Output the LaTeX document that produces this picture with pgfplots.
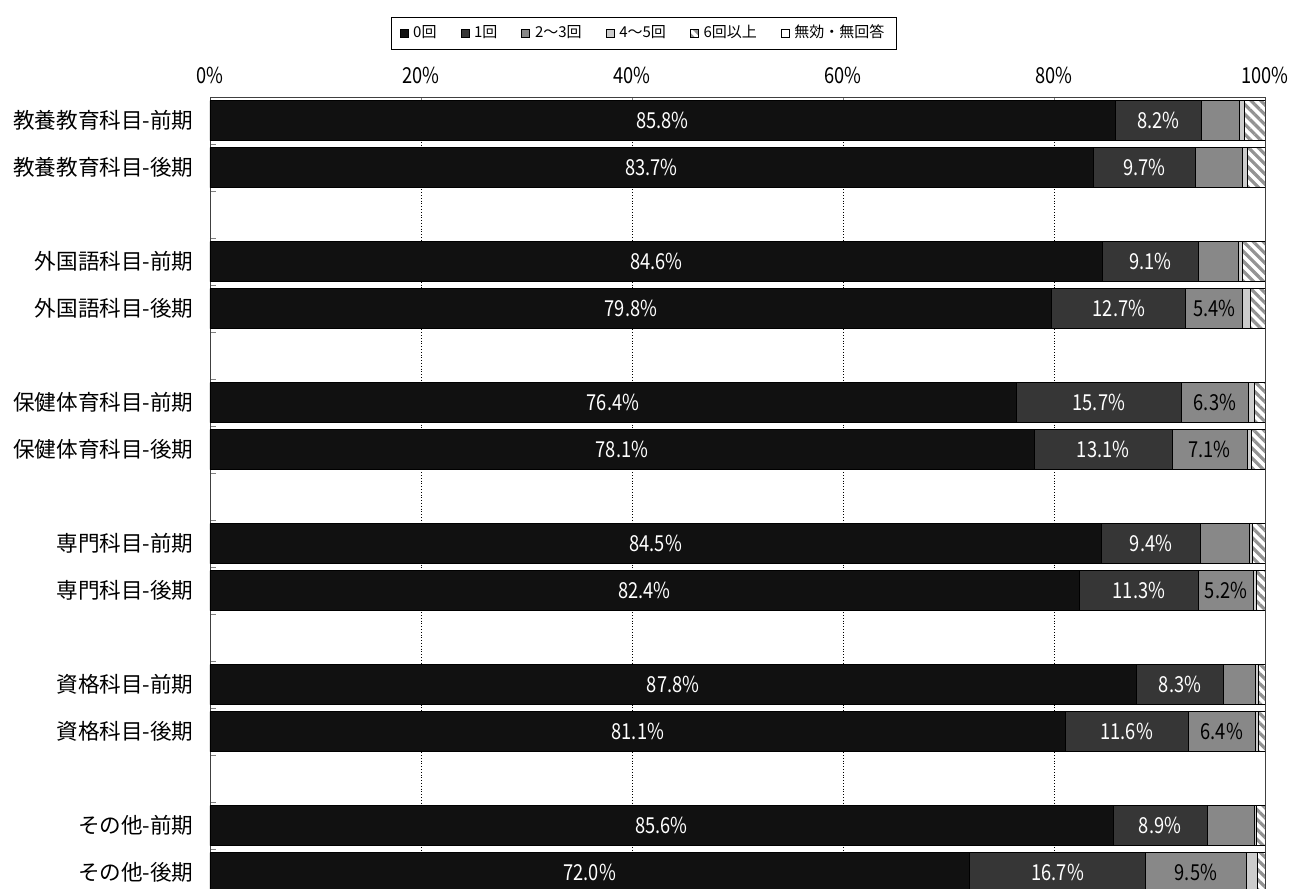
\documentclass[border=0pt]{standalone}
\usepackage{fontspec}
\setmainfont{Noto Sans CJK JP}
\newfontfamily\narrow{Noto Sans CJK JP}[FakeStretch=0.83]
\usepackage{pgfplots}
\pgfplotsset{compat=1.18}
\usepackage{pgfplotstable}
\usetikzlibrary{patterns.meta}

\definecolor{c0}{HTML}{111111}
\definecolor{c1}{HTML}{363636}
\definecolor{c2}{HTML}{888888}
\definecolor{c3}{HTML}{CCCCCC}

% pos: row on the axis (blank rows between groups)
\pgfplotstableread{
pos a    b    c   d   e
0   85.8 8.2  3.6 0.4 2.0
1   83.7 9.7  4.5 0.4 1.7
3   84.6 9.1  3.8 0.4 2.1
4   79.8 12.7 5.4 0.7 1.4
6   76.4 15.7 6.3 0.6 1.0
7   78.1 13.1 7.1 0.4 1.3
9   84.5 9.4  4.6 0.3 1.2
10  82.4 11.3 5.2 0.3 0.8
12  87.8 8.3  3.0 0.3 0.6
13  81.1 11.6 6.4 0.3 0.6
15  85.6 8.9  4.5 0.2 0.8
16  72.0 16.7 9.5 1.1 0.7
}\data

\newcommand\pct[1]{\pgfmathprintnumber[fixed,fixed zerofill,precision=1,assume math mode=true]{#1}\%}

\begin{document}
\begin{tikzpicture}
\begin{axis}[
  at={(0,0)}, anchor=north west,
  scale only axis, width=527.5pt, height=399.5pt,
  xbar stacked, bar width=20pt,
  y dir=reverse,
  xmin=0, xmax=100, ymin=-0.5, ymax=16.5,
  axis line style={black!75},
  xtick={0,20,...,100},
  xticklabels={0\%,20\%,40\%,60\%,80\%,100\%},
  xtick pos=right, xticklabel pos=right,
  xticklabel style={font=\narrow\fontsize{11}{12}\selectfont, yshift=3pt},
  xmajorgrids, grid style={densely dotted, black},
  ytick={0,1,3,4,6,7,9,10,12,13,15,16},
  yticklabels={教養教育科目-前期,教養教育科目-後期,外国語科目-前期,外国語科目-後期,
    保健体育科目-前期,保健体育科目-後期,専門科目-前期,専門科目-後期,
    資格科目-前期,資格科目-後期,その他-前期,その他-後期},
  yticklabel style={font=\fontsize{10.8}{12}\selectfont, inner sep=0pt, xshift=-8pt},
  minor ytick={0.5,1.5,...,15.5},
  ytick pos=left, tick align=inside,
  major tick length=3pt, minor tick length=3pt,
  major y tick style={draw=none},
  % stacked bars already put the labels in the middle of each segment
  every node near coord/.append style={anchor=center,
    font=\narrow\fontsize{11}{12}\selectfont},
  legend image code/.code={\draw[#1, line width=0.3pt] (0pt,-2pt) rectangle (4pt,2pt);},
  legend style={at={(axis description cs:0.4114,1.0801)}, anchor=center,
    draw=black, font=\fontsize{7.5}{9}\selectfont, legend columns=6,
    inner xsep=4pt, inner ysep=2pt,
    /tikz/every odd column/.append style={column sep=0.5pt},
    /tikz/every even column/.append style={column sep=10pt}},
]
\addplot[fill=c0, draw=black,
  visualization depends on={\thisrow{a}\as\val},
  nodes near coords={\pct{\val}}, nodes near coords style={text=white}]
  table[x=a, y=pos]{\data};
\addplot[fill=c1, draw=black,
  visualization depends on={\thisrow{b}\as\val},
  nodes near coords={\pct{\val}}, nodes near coords style={text=white}]
  table[x=b, y=pos]{\data};
\addplot[fill=c2, draw=black,
  visualization depends on={\thisrow{c}\as\val},
  nodes near coords={\ifdim\val pt<5pt\else\pct{\val}\fi},
  nodes near coords style={text=black}]
  table[x=c, y=pos]{\data};
\addplot[fill=c3, draw=black] table[x=d, y=pos]{\data};
\addplot[draw=black, pattern={Lines[angle=-45,distance=3.5pt,line width=1.6pt]},
  pattern color=gray!85] table[x=e, y=pos]{\data};
\addlegendimage{fill=white, draw=black}
\legend{0回,1回,2～3回,4～5回,6回以上,無効・無回答}
\end{axis}
\pgfresetboundingbox
\useasboundingbox (-105pt,-396pt) rectangle (540.5pt,48.5pt);
\end{tikzpicture}
\end{document}
